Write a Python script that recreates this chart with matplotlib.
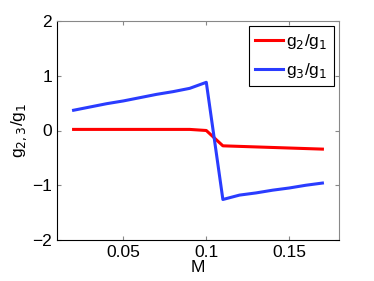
import numpy as np
import matplotlib
matplotlib.use('Agg')
import matplotlib.pyplot as plt

M = [0.02, 0.03, 0.04, 0.05, 0.06, 0.07, 0.08, 0.09, 0.10, 0.11, 0.12, 0.13, 0.14, 0.15, 0.16, 0.17]
g2_g1 = [0.02, 0.02, 0.02, 0.02, 0.02, 0.02, 0.02, 0.02, 0.0, -0.28, -0.29, -0.30, -0.31, -0.32, -0.33, -0.34]
g3_g1 = [0.37, 0.43, 0.49, 0.54, 0.60, 0.66, 0.71, 0.77, 0.88, -1.26, -1.18, -1.14, -1.09, -1.05, -1.00, -0.96]

plt.rcParams['font.family'] = ['Liberation Sans', 'DejaVu Sans']
fig = plt.figure(figsize=(3.74, 2.81), dpi=100)
ax = fig.add_axes([57/374, 1 - 240/281, (339 - 57)/374, (240 - 21)/281])

ax.plot(M, g2_g1, color='#ff0000', lw=2.2, label='g$_2$/g$_1$')
ax.plot(M, g3_g1, color='#2a3cff', lw=2.2, label='g$_3$/g$_1$')

ax.set_xlim(0.01, 0.18)
ax.set_ylim(-2, 2)
ax.set_xticks([0.05, 0.1, 0.15])
ax.set_xticklabels(['0.05', '0.1', '0.15'])
ax.set_yticks([-2, -1, 0, 1, 2])
ax.set_yticklabels(['\u22122', '\u22121', '0', '1', '2'])
ax.tick_params(direction='in', length=3, labelsize=12.5, top=True, right=True, color='#888888')
for s in ax.spines.values():
    s.set_color('#888888')
ax.spines['bottom'].set_color('black')
ax.spines['left'].set_color('black')
ax.set_xlabel('M', fontsize=12.5, labelpad=0)
ax.set_ylabel('g$_{2,3}$/g$_1$', fontsize=12.5, labelpad=2)

leg = ax.legend(loc='upper right', fontsize=12.5, fancybox=False, framealpha=1,
                handlelength=1.6, handletextpad=0.2, borderpad=0.35, labelspacing=0.55,
                borderaxespad=0.3)
leg.get_frame().set_edgecolor('black')
leg.get_frame().set_linewidth(0.8)

fig.savefig('out.png', dpi=100)
